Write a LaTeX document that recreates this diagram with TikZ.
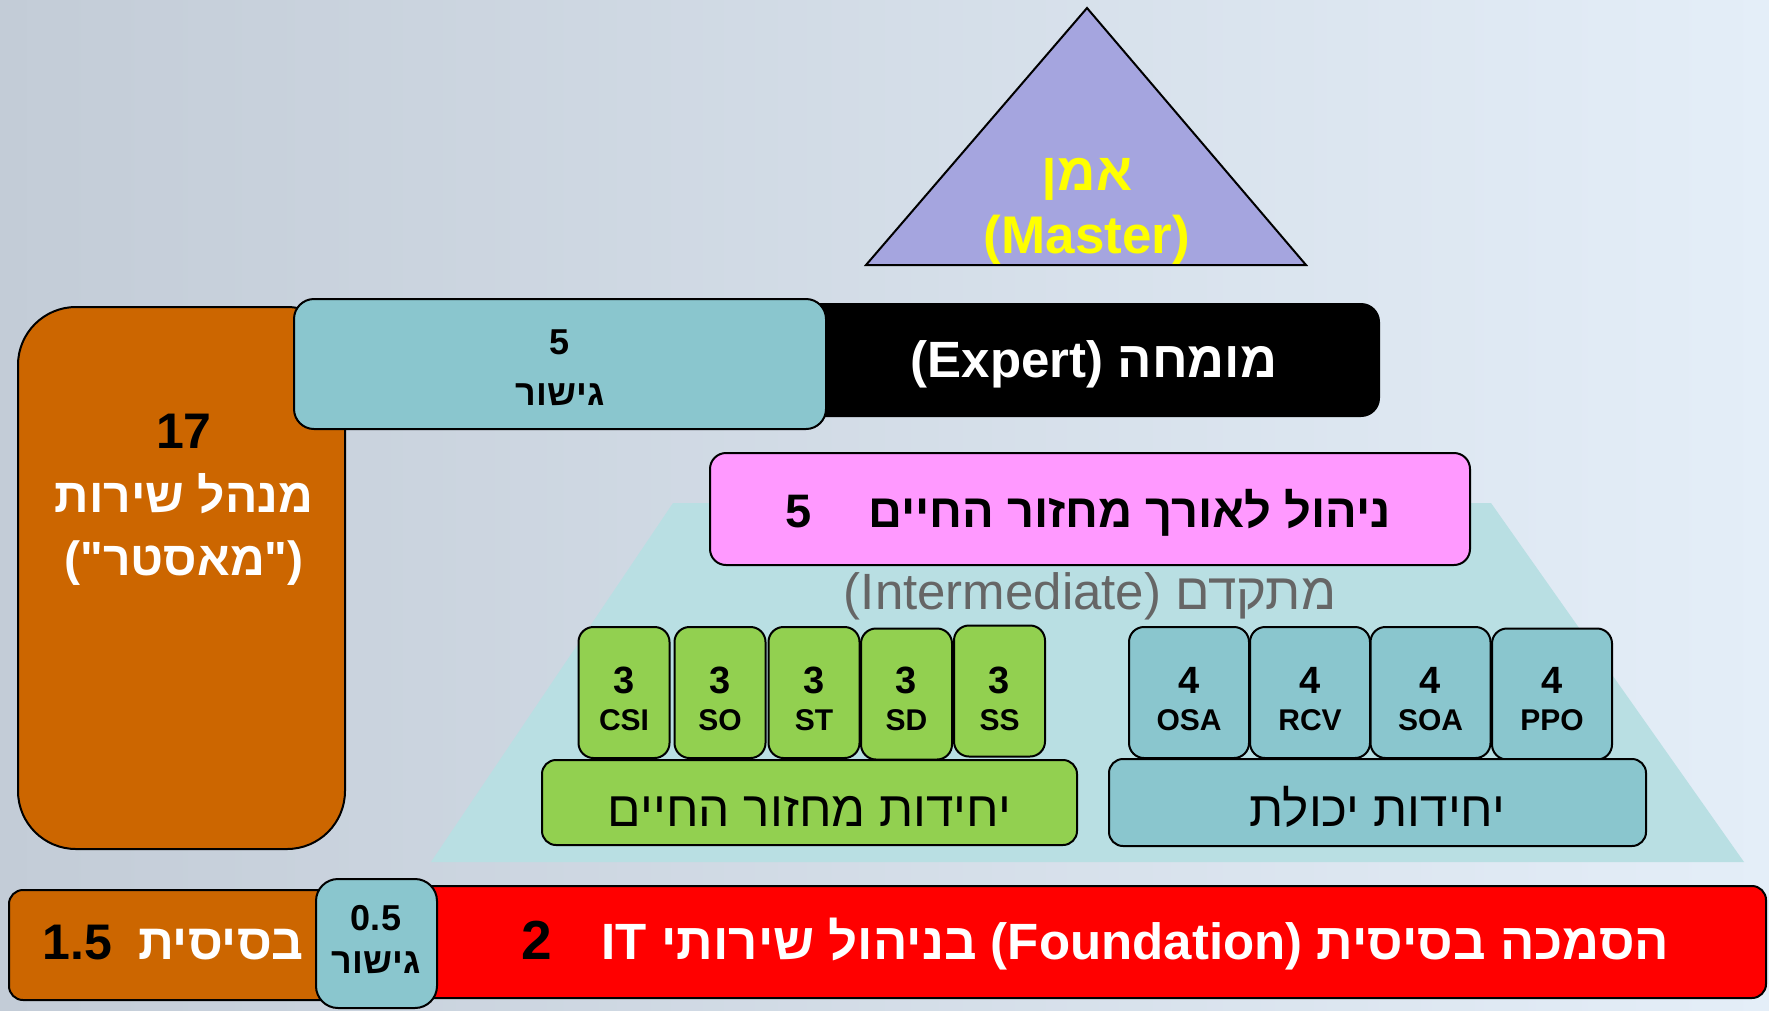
\documentclass[tikz,border=0pt]{standalone}
\usepackage{fontspec}
\setmainfont{Liberation Sans}
\newfontfamily\hebf[Script=Hebrew]{Liberation Sans}
\newfontfamily\qf[Ligatures=TeXOff]{Liberation Sans}
\TeXXeTstate=1
\newcommand\RL[1]{{\hebf\beginR #1\endR}}
\newcommand\fsz[1]{\fontsize{#1}{#1}\selectfont}
\definecolor{bgL}{HTML}{C3CCD7}
\definecolor{bgR}{HTML}{E4EEF8}
\definecolor{orangeC}{HTML}{CC6600}
\definecolor{tealC}{HTML}{8AC6CE}
\definecolor{greenC}{HTML}{92D050}
\definecolor{pinkC}{HTML}{FF99FF}
\definecolor{redC}{HTML}{FF0000}
\definecolor{lavC}{HTML}{A5A5DF}
\definecolor{trapC}{HTML}{B9DFE3}
\definecolor{grayT}{HTML}{666666}
\definecolor{yelC}{HTML}{FFFF00}
\tikzset{
  box/.style={draw=black, line width=2pt, rounded corners=15pt, inner sep=0pt},
  t/.style={inner sep=0pt, anchor=base},
  unit/.style={box, minimum height=131pt},
  gunit/.style={unit, fill=greenC, minimum width=91pt},
  tunit/.style={unit, fill=tealC, minimum width=120pt},
  big/.style={font=\fsz{38}\bfseries},
  small/.style={font=\fsz{30}\bfseries},
}
\begin{document}
\begin{tikzpicture}[x=1pt,y=-1pt]
\useasboundingbox (0,0) rectangle (1769,1010);
\shade[left color=bgL, right color=bgR] (0,0) rectangle (1769,1010);

% trapezoid
\coordinate (q1) at (673,503);
\coordinate (q2) at (1491,503);
\coordinate (q3) at (1744,862);
\coordinate (q4) at (431,862);
\fill[trapC] (q1) -- (q2) -- (q3) -- (q4) -- cycle;

% triangle
\coordinate (apex) at (1087,8);
\coordinate (bl) at (866,265);
\coordinate (br) at (1306,265);
\draw[fill=lavC, line width=2pt] (apex) -- (bl) -- (br) -- cycle;
\node[t, text=yelC, font=\fsz{53}\bfseries] (masterHe) at (1087,190) {\RL{אמן}};
\node[t, text=yelC, font=\fsz{53}\bfseries] (masterEn) at (1087,253) {(Master)};

% service manager box
\node[box, fill=orangeC, rounded corners=58pt, minimum width=327pt, minimum height=542pt] (mgr) at (181.5,578) {};
\node[t, font=\fsz{50}\bfseries] (mgrN) at (184,448) {17};
\node[t, text=white, font=\fsz{48}\bfseries] (mgrA) at (184,512) {\RL{מנהל שירות}};
\node[t, text=white, font=\qf\fsz{48}\bfseries] (mgrB) at (184,575) {("\RL{מאסטר}")};

% expert bar
\node[box, fill=black, rounded corners=18pt, minimum width=599pt, minimum height=112pt] (expert) at (1079.5,360) {};
\node[t, text=white, font=\fsz{51}\bfseries] (expertT) at (1094,377) {(Expert) \RL{מומחה}};

% bridge 5
\node[box, fill=tealC, rounded corners=20pt, minimum width=532pt, minimum height=130pt] (br5) at (560,364) {};
\node[t, font=\fsz{36}\bfseries] (br5N) at (560,354) {5};
\node[t, font=\fsz{36}\bfseries] (br5T) at (560,405) {\RL{גישור}};

% lifecycle management
\node[box, fill=pinkC, rounded corners=16pt, minimum width=760pt, minimum height=112pt] (pink) at (1090,509) {};
\node[t, font=\fsz{47}\bfseries] (pinkN) at (799,527) {5};
\node[t, font=\fsz{47}\bfseries] (pinkT) at (1129.5,527) {\RL{ניהול לאורך מחזור החיים}};

% intermediate label
\node[t, text=grayT, font=\fsz{51}] (inter) at (1090,609) {(Intermediate) \RL{מתקדם}};

% lifecycle units
\node[gunit] (csi) at (624,692.5) {};
\node[gunit] (so) at (720,692.5) {};
\node[gunit] (st) at (814,692.5) {};
\node[gunit] (sd) at (906.5,694) {};
\node[gunit] (ss) at (999.5,691) {};
\foreach \n/\lab/\x in {csi/CSI/624, so/SO/720, st/ST/814, sd/SD/906.5, ss/SS/999.5}{
  \node[t, big] (\n-n) at (\x,693) {3};
  \node[t, small] (\n-l) at (\x,730) {\lab};
}
% capability units
\node[tunit] (osa) at (1189,692.5) {};
\node[tunit] (rcv) at (1310,692.5) {};
\node[tunit] (soa) at (1430.5,692.5) {};
\node[tunit] (ppo) at (1552,694) {};
\foreach \n/\lab/\x in {osa/OSA/1189, rcv/RCV/1310, soa/SOA/1430.5, ppo/PPO/1552}{
  \node[t, big] (\n-n) at (\x,693) {4};
  \node[t, small] (\n-l) at (\x,730) {\lab};
}

% long unit bars
\node[box, fill=greenC, rounded corners=14pt, minimum width=535pt, minimum height=85pt] (lcu) at (809.5,802.5) {};
\node[t, font=\fsz{49.5}] (lcuT) at (809.5,826) {\RL{יחידות מחזור החיים}};
\node[box, fill=tealC, rounded corners=14pt, minimum width=537pt, minimum height=87pt] (capu) at (1377.5,802.5) {};
\node[t, font=\fsz{49.5}] (capuT) at (1377.5,826) {\RL{יחידות יכולת}};

% bottom row
\node[box, fill=orangeC, rounded corners=14pt, minimum width=330pt, minimum height=110pt] (basic) at (174,945) {};
\node[t, font=\fsz{50}\bfseries] (basicN) at (77.5,959) {1.5};
\node[t, text=white, font=\fsz{50}\bfseries] (basicT) at (221,959) {\RL{בסיסית}};

\node[box, fill=redC, rounded corners=14pt, minimum width=1386pt, minimum height=112pt] (found) at (1073,942) {};
\node[t, font=\fsz{55}\bfseries] (foundN) at (537,959) {2};
\node[t, text=white, font=\fsz{51}\bfseries] (foundT) at (1135.5,959) {IT \RL{בניהול שירותי} (Foundation) \RL{הסמכה בסיסית}};

\node[box, fill=tealC, rounded corners=22pt, minimum width=121pt, minimum height=129pt] (br05) at (376.5,943.5) {};
\node[t, font=\fsz{36}\bfseries] (br05N) at (376,930) {0.5};
\node[t, font=\fsz{36}\bfseries] (br05T) at (376,973) {\RL{גישור}};
\end{tikzpicture}
\end{document}
